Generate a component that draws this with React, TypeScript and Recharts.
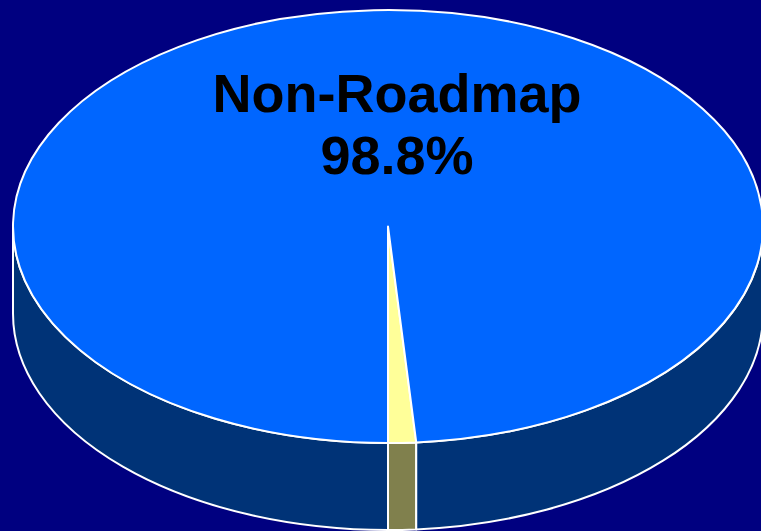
import { Pie, PieChart } from "recharts";

// shares of the total, in percent
const categories = ["Roadmap", "Non-Roadmap"];
const shares = [1.2, 98.8];
const topColors = ["#FFFF99", "#0066FF"];
const sideColors = ["#80804D", "#003377"];
const labelled = ["Non-Roadmap"];

const data = categories.map((name, i) => ({ name, value: shares[i] }));

const RATIO = 216.5 / 375; // tilt of the disc
const DEPTH = 87;
const RAD = Math.PI / 180;

const pt = (cx: number, cy: number, r: number, deg: number) => [
  cx + r * Math.cos(-deg * RAD),
  cy + r * RATIO * Math.sin(-deg * RAD),
];

const renderSide = (props: any) => {
  const { cx, cy, outerRadius, startAngle, endAngle, index } = props;
  const lo = Math.min(startAngle, endAngle);
  const hi = Math.max(startAngle, endAngle);
  const rx = outerRadius;
  const ry = outerRadius * RATIO;
  const parts: number[][] = [];
  for (const base of [-360, 0, 360]) {
    const b1 = Math.max(lo, 180 + base);
    const b2 = Math.min(hi, 360 + base);
    if (b2 > b1) parts.push([b1, b2]);
  }
  return (
    <g>
      {parts.map(([b1, b2], k) => {
        const [x1, y1] = pt(cx, cy, rx, b1);
        const [x2, y2] = pt(cx, cy, rx, b2);
        const d =
          `M${x1},${y1} A${rx},${ry} 0 0 0 ${x2},${y2} ` +
          `L${x2},${y2 + DEPTH} A${rx},${ry} 0 0 1 ${x1},${y1 + DEPTH} Z`;
        return (
          <path
            key={k}
            d={d}
            fill={sideColors[index]}
            stroke="#FFFFFF"
            strokeWidth={2}
            strokeLinejoin="round"
          />
        );
      })}
    </g>
  );
};

const renderTop = (props: any) => {
  const { cx, cy, outerRadius, startAngle, endAngle, index, name, percent } =
    props;
  const rx = outerRadius;
  const ry = outerRadius * RATIO;
  const [x1, y1] = pt(cx, cy, rx, startAngle);
  const [x2, y2] = pt(cx, cy, rx, endAngle);
  const large = Math.abs(endAngle - startAngle) > 180 ? 1 : 0;
  const d = `M${cx},${cy} L${x1},${y1} A${rx},${ry} 0 ${large} 0 ${x2},${y2} Z`;
  return (
    <g>
      <path
        d={d}
        fill={topColors[index]}
        stroke="#FFFFFF"
        strokeWidth={2}
        strokeLinejoin="round"
      />
      {labelled.includes(name) && (
        <text
          x={cx + 9}
          textAnchor="middle"
          fill="#000000"
          fontFamily="'Liberation Sans', Arial, sans-serif"
          fontWeight="bold"
          fontSize={54}
        >
          <tspan x={cx + 9} y={cy - 114.5}>
            {name}
          </tspan>
          <tspan x={cx + 9} y={cy - 52.5}>
            {`${(percent * 100).toFixed(1)}%`}
          </tspan>
        </text>
      )}
    </g>
  );
};

export default function App() {
  return (
    <div
      style={{
        position: "absolute",
        left: 0,
        top: 0,
        width: 761,
        height: 531,
        background: "#000080",
        overflow: "hidden",
      }}
    >
      <PieChart
        width={761}
        height={531}
        margin={{ top: 0, right: 0, bottom: 0, left: 0 }}
      >
        <Pie
          data={data}
          dataKey="value"
          nameKey="name"
          cx={388}
          cy={226.5}
          outerRadius={375}
          startAngle={270}
          endAngle={630}
          fill="none"
          stroke="none"
          label={renderSide}
          labelLine={false}
          isAnimationActive={false}
        />
        <Pie
          data={data}
          dataKey="value"
          nameKey="name"
          cx={388}
          cy={226.5}
          outerRadius={375}
          startAngle={270}
          endAngle={630}
          fill="none"
          stroke="none"
          label={renderTop}
          labelLine={false}
          isAnimationActive={false}
        />
      </PieChart>
    </div>
  );
}
